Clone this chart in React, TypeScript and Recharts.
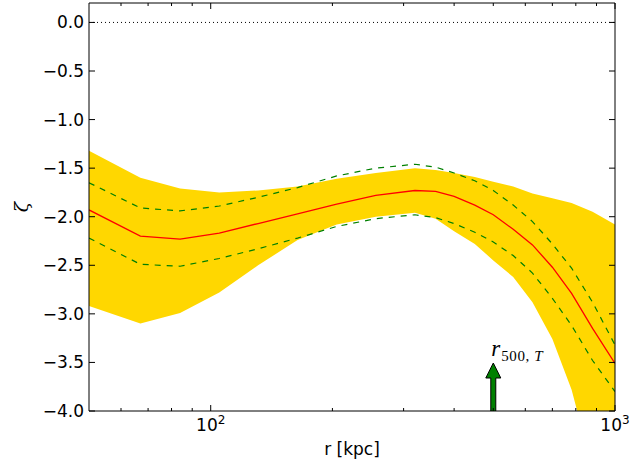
import React from 'react';
import { ComposedChart, Area, Line, Scatter, XAxis, YAxis, ReferenceLine } from 'recharts';

// radius grid (kpc)
const radius = [50, 67, 84, 105, 131, 164, 205, 256, 320, 360, 400, 450, 500, 560, 625, 700, 781, 880, 1000];
// median profile
const zetaMedian = [-1.93, -2.2, -2.23, -2.17, -2.07, -1.97, -1.87, -1.78, -1.73, -1.74, -1.79, -1.88, -1.98, -2.13, -2.29, -2.52, -2.79, -3.15, -3.51];
// dashed 1-sigma envelope
const zetaUpper = [-1.65, -1.91, -1.94, -1.89, -1.8, -1.7, -1.58, -1.5, -1.46, -1.49, -1.55, -1.63, -1.73, -1.88, -2.05, -2.28, -2.53, -2.88, -3.32];
const zetaLower = [-2.22, -2.49, -2.51, -2.43, -2.33, -2.22, -2.1, -2.02, -1.98, -2.01, -2.07, -2.16, -2.26, -2.4, -2.58, -2.84, -3.12, -3.48, -3.8];
// shaded band
const bandHigh = [-1.32, -1.6, -1.71, -1.75, -1.73, -1.69, -1.61, -1.55, -1.5, -1.52, -1.55, -1.59, -1.64, -1.69, -1.76, -1.81, -1.86, -1.95, -2.08];
const bandLow = [-2.92, -3.1, -2.99, -2.78, -2.5, -2.24, -2.08, -2.0, -1.96, -2.02, -2.15, -2.28, -2.45, -2.62, -2.88, -3.26, -3.78, -4.6, -5.6];

// r500 marker
const r500 = 500;
const arrowBase = -4;

const yTicks = [0, -0.5, -1, -1.5, -2, -2.5, -3, -3.5, -4];
const xMajor = [100, 1000];
const xMinor = [60, 70, 80, 90, 200, 300, 400, 500, 600, 700, 800, 900];
const xTicks = [...xMinor, ...xMajor].sort((a, b) => a - b);

const data = radius.map((r, i) => ({
  r,
  band: [bandLow[i], bandHigh[i]],
  med: zetaMedian[i],
  up: zetaUpper[i],
  lo: zetaLower[i],
}));

const arrowData = [{ r: r500, z: arrowBase }];

const FONT = 'DejaVu Sans';

const fmtY = (v: number) => {
  const s = Math.abs(v).toFixed(1);
  return v < 0 ? '\u2212' + s : s;
};

const BottomTick = (props: any) => {
  const { x, y, payload } = props;
  const major = xMajor.includes(payload.value);
  const exp = Math.round(Math.log10(payload.value));
  return (
    <g>
      <line x1={x} x2={x} y1={y} y2={y - (major ? 6 : 3)} stroke="#000" strokeWidth={1} />
      {major && (
        <text x={x} y={y + 20} textAnchor="middle" fontSize={17} fontFamily={FONT} fill="#000">
          10
          <tspan dy={-7} fontSize={12}>
            {exp}
          </tspan>
        </text>
      )}
    </g>
  );
};

const TopTick = (props: any) => {
  const { x, y, payload } = props;
  const major = xMajor.includes(payload.value);
  return <line x1={x} x2={x} y1={y} y2={y + (major ? 6 : 3)} stroke="#000" strokeWidth={1} />;
};

const LeftTick = (props: any) => {
  const { x, y, payload } = props;
  return (
    <g>
      <line x1={x} x2={x + 6} y1={y} y2={y} stroke="#000" strokeWidth={1} />
      <text x={x - 5} y={y + 6} textAnchor="end" fontSize={17} fontFamily={FONT} fill="#000">
        {fmtY(payload.value)}
      </text>
    </g>
  );
};

const RightTick = (props: any) => {
  const { x, y } = props;
  return <line x1={x} x2={x - 6} y1={y} y2={y} stroke="#000" strokeWidth={1} />;
};

const XLabel = (props: any) => {
  const vb = props.viewBox || { x: 89, y: 411, width: 526, height: 51 };
  return (
    <text x={vb.x + vb.width / 2} y={vb.y + 44} textAnchor="middle" fontSize={17} fontFamily={FONT} fill="#000">
      r [kpc]
    </text>
  );
};

const YLabel = (props: any) => {
  const vb = props.viewBox || { x: 0, y: 3, width: 89, height: 408 };
  const cx = vb.x + 21;
  const cy = vb.y + vb.height / 2;
  return (
    <text
      x={cx}
      y={cy}
      transform={`rotate(-90 ${cx} ${cy})`}
      textAnchor="middle"
      dominantBaseline="central"
      fontSize={19}
      fontStyle="italic"
      fontFamily="DejaVu Serif"
      fill="#000"
    >
      ζ
    </text>
  );
};

const ArrowShape = (props: any) => {
  const { cx, cy } = props;
  if (cx == null || cy == null) return null;
  const sw = 2.5;
  const hw = 7.5;
  const headH = 15;
  const len = 48;
  const pts = [
    [cx - sw, cy],
    [cx - sw, cy - len + headH],
    [cx - hw, cy - len + headH],
    [cx, cy - len],
    [cx + hw, cy - len + headH],
    [cx + sw, cy - len + headH],
    [cx + sw, cy],
  ]
    .map((p) => p.join(','))
    .join(' ');
  return (
    <g>
      <polygon points={pts} fill="#008000" stroke="#000" strokeWidth={1} />
      <text x={cx - 2} y={cy - 55} fontFamily="Liberation Serif" fill="#000">
        <tspan fontSize={23} fontStyle="italic">r</tspan>
        <tspan fontSize={15} dy={5} dx={1} letterSpacing={0.6}>500, </tspan>
        <tspan fontSize={15} fontStyle="italic">T</tspan>
      </text>
    </g>
  );
};

export default function App() {
  return (
    <div style={{ position: 'absolute', left: 0, top: 0, width: 644, height: 462, background: '#fff' }}>
      <ComposedChart
        width={644}
        height={462}
        data={data}
        margin={{ top: 2, right: 28, bottom: 0, left: 0 }}
      >
        <XAxis
          xAxisId="b"
          dataKey="r"
          type="number"
          scale="log"
          domain={[50, 1000]}
          allowDataOverflow
          ticks={xTicks}
          interval={0}
          tickSize={0}
          tickMargin={0}
          tickLine={false}
          tick={<BottomTick />}
          axisLine={{ stroke: '#000' }}
          height={51}
          orientation="bottom"
          label={<XLabel />}
        />
        <XAxis
          xAxisId="t"
          dataKey="r"
          type="number"
          scale="log"
          domain={[50, 1000]}
          allowDataOverflow
          ticks={xTicks}
          interval={0}
          tickSize={0}
          tickMargin={0}
          tickLine={false}
          tick={<TopTick />}
          axisLine={{ stroke: '#000' }}
          height={1}
          orientation="top"
        />
        <YAxis
          yAxisId="l"
          type="number"
          domain={[-4, 0.2]}
          allowDataOverflow
          ticks={yTicks}
          interval={0}
          tickSize={0}
          tickMargin={0}
          tickLine={false}
          tick={<LeftTick />}
          axisLine={{ stroke: '#000' }}
          width={89}
          orientation="left"
          label={<YLabel />}
        />
        <YAxis
          yAxisId="rt"
          type="number"
          domain={[-4, 0.2]}
          allowDataOverflow
          ticks={yTicks}
          interval={0}
          tickSize={0}
          tickMargin={0}
          tickLine={false}
          tick={<RightTick />}
          axisLine={{ stroke: '#000' }}
          width={1}
          orientation="right"
        />
        <Area
          xAxisId="b"
          yAxisId="l"
          dataKey="band"
          type="linear"
          fill="#FFD700"
          fillOpacity={1}
          stroke="none"
          isAnimationActive={false}
          activeDot={false}
        />
        <ReferenceLine xAxisId="b" yAxisId="l" y={0} stroke="#000" strokeDasharray="1 3" />
        <Line
          xAxisId="b"
          yAxisId="l"
          dataKey="up"
          type="linear"
          stroke="#008000"
          strokeWidth={1.2}
          strokeDasharray="6 6"
          dot={false}
          activeDot={false}
          isAnimationActive={false}
        />
        <Line
          xAxisId="b"
          yAxisId="l"
          dataKey="lo"
          type="linear"
          stroke="#008000"
          strokeWidth={1.2}
          strokeDasharray="6 6"
          dot={false}
          activeDot={false}
          isAnimationActive={false}
        />
        <Line
          xAxisId="b"
          yAxisId="l"
          dataKey="med"
          type="linear"
          stroke="#FF0000"
          strokeWidth={1.3}
          dot={false}
          activeDot={false}
          isAnimationActive={false}
        />
        <Scatter
          xAxisId="b"
          yAxisId="l"
          data={arrowData}
          dataKey="z"
          shape={<ArrowShape />}
          isAnimationActive={false}
        />
      </ComposedChart>
    </div>
  );
}
